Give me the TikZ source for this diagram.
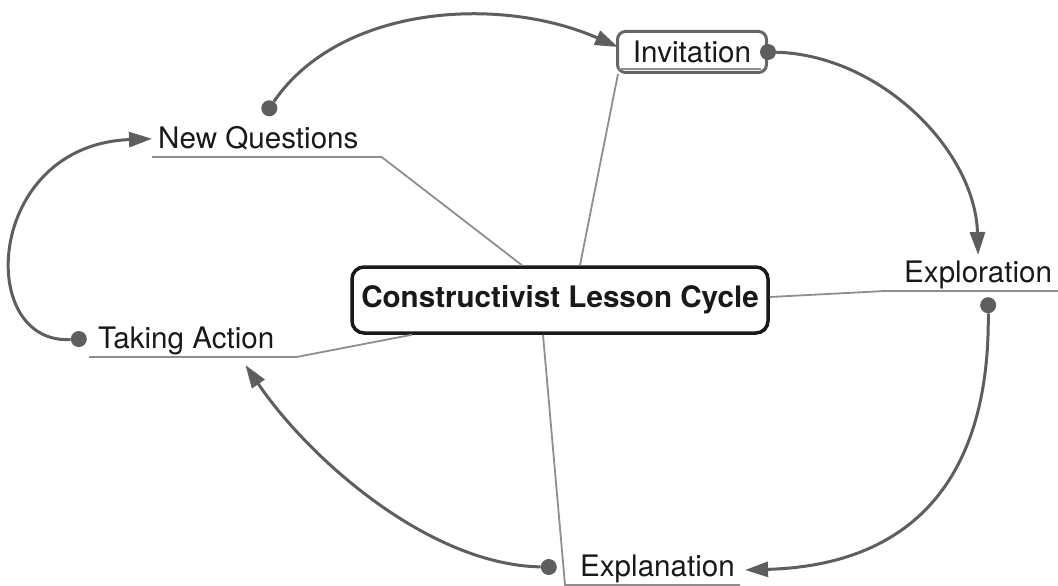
\documentclass[tikz,border=0pt]{standalone}
\usepackage{fontspec}
\setmainfont{TeX Gyre Heros}
\usetikzlibrary{arrows.meta,positioning,calc}
\definecolor{arcgray}{HTML}{5E5E5E}
\definecolor{leadgray}{HTML}{8E8E8E}
\definecolor{invgray}{HTML}{666666}

\begin{document}
\begin{tikzpicture}[
    x=1pt, y=-1pt,
    topic/.style={anchor=south west, inner xsep=0pt, inner ysep=6pt, text depth=2pt, font=\fontsize{29.6}{34}\selectfont, text=black!90},
    centre/.style={draw=black!90, line width=3.5pt, rounded corners=12pt, minimum width=416pt, minimum height=66pt, font=\fontsize{29.6}{34}\selectfont\bfseries, text=black!90},
    invbox/.style={draw=invgray, line width=3pt, rounded corners=8pt, minimum width=149pt, minimum height=41pt, inner xsep=0pt, text depth=0pt, font=\fontsize{29.6}{34}\selectfont, text=black!90},
    dot/.style={circle, fill=arcgray, inner sep=0pt, minimum size=16pt},
    arc/.style={draw=arcgray, line width=3pt, -{Triangle[length=23pt,width=15pt]}},
    leader/.style={draw=leadgray, line width=1.8pt},
]
\useasboundingbox (0,0) rectangle (1058,586);

% Nodes
\node[centre] (clc) at (560,300) {Constructivist Lesson Cycle};
\node[invbox] (inv) at (692,52) {Invitation};
\node[topic] (nq) at (158,157) {New Questions};
\node[topic] (ta) at (98,357) {Taking Action};
\node[topic] (explo) at (904,291) {Exploration};
\node[topic] (expl) at (580,585) {Explanation};

% Dots where the cycle leaves a stage
\node[dot, above=4pt of nq.north, xshift=11pt] (nqdot) {};
\node[dot] (invdot) at (inv.east) {};
\node[dot, below=6pt of explo.south, xshift=10pt] (explodot) {};
\node[dot, left=23pt of expl.west] (expldot) {};
\node[dot, left=11pt of ta.west] (tadot) {};

% Leaders from the centre, ending as underlines
\draw[leader] ($(clc.north)+(-38,0)$) -- ([xshift=23pt]nq.south east) -- ([xshift=-6pt]nq.south west);
\draw[leader] ($(clc.north)+(20,0)$) -- ($(inv.south west)+(2,0)$);
\draw[leader] ($(inv.south west)+(3,-5)$) -- ($(inv.south east)+(-7,-5)$);
\draw[leader] ($(clc.east)+(0,-3)$) -- ([xshift=-19pt]explo.south west) -- ([xshift=8pt]explo.south east);
\draw[leader] ($(clc.south)+(-17,0)$) -- ([xshift=-15pt]expl.south west) -- ([xshift=5pt]expl.south east);
\draw[leader] ($(clc.south)+(-148,0)$) -- ([xshift=22pt]ta.south east) -- ([xshift=-9pt]ta.south west);

% Cycle arrows
\draw[arc] (nqdot) .. controls (340,5) and (500,-5) .. ($(inv.west)+(2,-5)$);
\draw[arc] (invdot) .. controls (880,55) and (975,150) .. (explo.north);
\draw[arc] (explodot) .. controls (990,470) and (920,565) .. ($(expl.east)+(10,3)$);
\draw[arc] (expldot) .. controls (430,565) and (310,460) .. ($(ta.south east)+(-29,8)$);
\draw[arc] (tadot) .. controls (-25,345) and (-15,145) .. ($(nq.west)+(-6,0)$);

\end{tikzpicture}
\end{document}
